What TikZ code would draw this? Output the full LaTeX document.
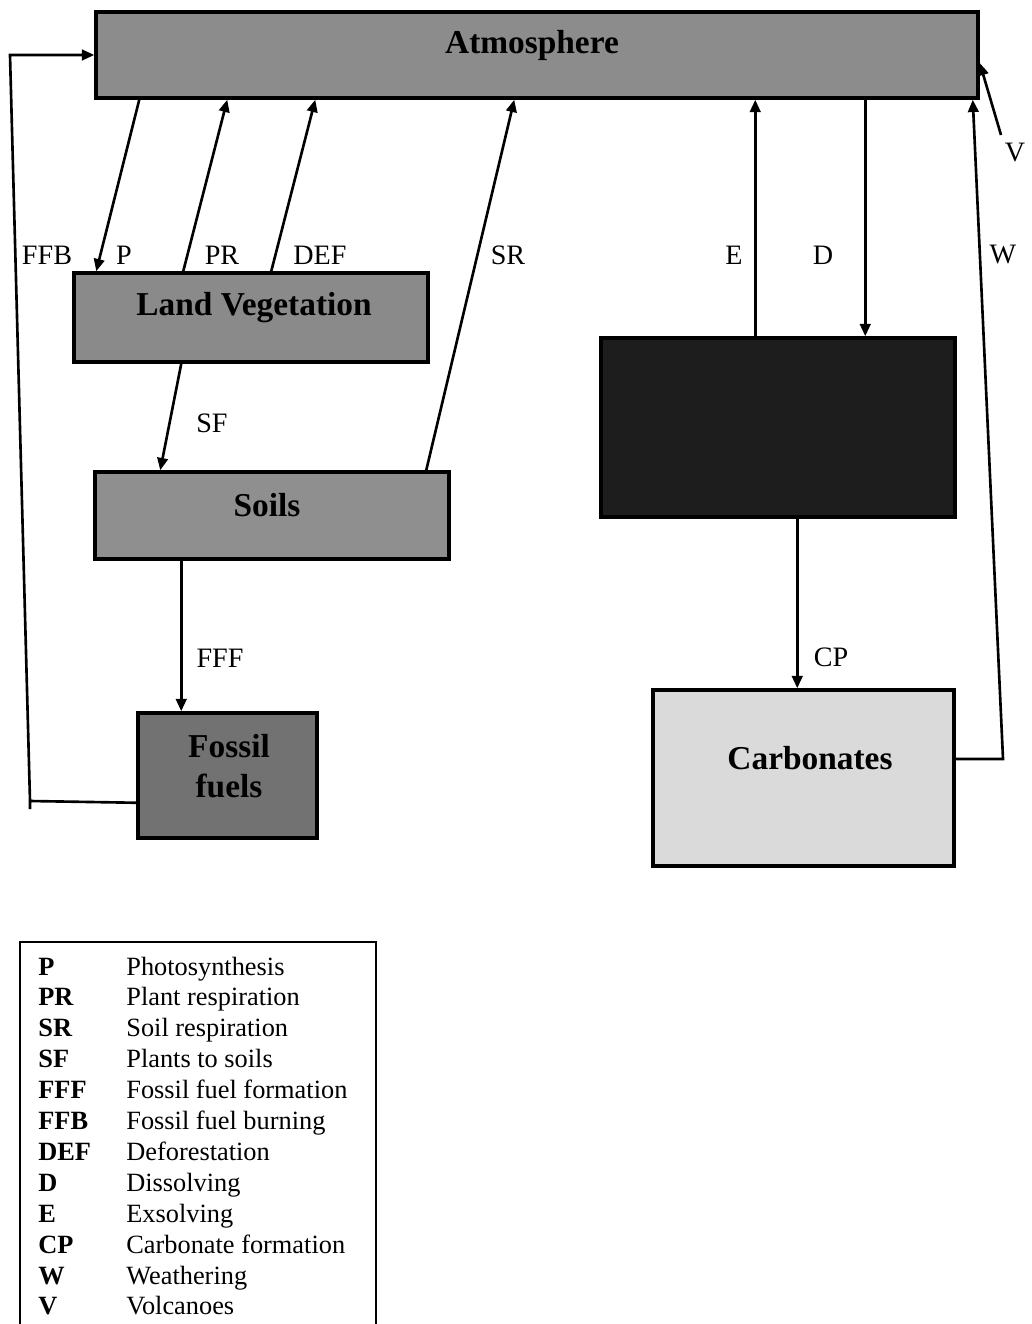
\documentclass[tikz,border=0pt]{standalone}
\usepackage{fontspec}
\setmainfont{Liberation Serif}
\usetikzlibrary{arrows.meta,calc,fit}
\definecolor{atmgray}{HTML}{8C8C8C}
\definecolor{veggray}{HTML}{8A8A8A}
\definecolor{soilgray}{HTML}{8F8F8F}
\definecolor{fossgray}{HTML}{727272}
\definecolor{oceanblk}{HTML}{1D1D1D}
\definecolor{carbgray}{HTML}{DADADA}
\begin{document}
\begin{tikzpicture}[x=0.02cm,y=-0.02cm,
  box/.style={draw=black,line width=2pt,inner sep=0pt,rectangle},
  title/.style={font=\fontsize{19}{23}\selectfont\bfseries,align=center,inner sep=0pt},
  lbl/.style={font=\fontsize{16}{18}\selectfont,inner sep=0pt},
  flow/.style={line width=1.5pt,-{Triangle[length=7pt,width=6pt]}},
  legab/.style={font=\fontsize{15}{17}\selectfont\bfseries,anchor=base west,inner sep=0pt},
  legtx/.style={font=\fontsize{15}{17}\selectfont,anchor=base west,inner sep=0pt}]
\useasboundingbox[fill=white] (0,0) rectangle (1031,1324);

% boxes
\node[box,fill=atmgray,fit={(96,12)(978,98)}] (atm) {};
\node[box,fill=veggray,fit={(74,273)(428,362)}] (veg) {};
\node[box,fill=soilgray,fit={(95,472)(449,559)}] (soil) {};
\node[box,fill=fossgray,fit={(138,713)(317,838)}] (foss) {};
\node[box,fill=oceanblk,fit={(601,338)(955,517)}] (ocean) {};
\node[box,fill=carbgray,fit={(653,690)(954,866)}] (carb) {};

% titles
\node[title] (atmT) at (532,45) {Atmosphere};
\node[title] (vegT) at (254,308) {Land Vegetation};
\node[title] (soilT) at (267,505) {Soils};
\node[title] (fossT) at (229,766) {Fossil\\fuels};
\node[title] (carbT) at (810,758) {Carbonates};

% connectors
\draw[flow] ($(atm.south west)+(45,0)$) -- ($(veg.north west)+(24,0)$);
\draw[flow] ($(veg.north west)+(111,0)$) -- ($(atm.south west)+(133,0)$);
\draw[flow] ($(veg.north west)+(199,0)$) -- ($(atm.south west)+(221,0)$);
\draw[flow] ($(soil.north west)+(333,0)$) -- ($(atm.south west)+(420,0)$);
\draw[flow] ($(veg.south west)+(109,0)$) -- ($(soil.north west)+(67,0)$);
\coordinate (fffs) at ($(soil.south west)+(88,0)$);
\draw[flow] (fffs) -- (fffs |- foss.north);

\coordinate (ffbA) at (30,801);
\coordinate (ffbB) at (10,55);
\draw[flow] ($(foss.south west)+(0,-37)$) -- (ffbA) -- ($(ffbA)+(0,8)$) (ffbA) -- (ffbB) -- (atm.west);

\coordinate (es) at ($(ocean.north west)+(156,0)$);
\draw[flow] (es) -- (es |- atm.south);
\coordinate (ds) at ($(atm.south west)+(771,0)$);
\draw[flow] (ds) -- (ds |- ocean.north);
\coordinate (cps) at ($(ocean.south west)+(198,0)$);
\draw[flow] (cps) -- (cps |- carb.north);

\coordinate (wA) at (1003,759);
\draw[flow] ($(carb.east)+(0,-19)$) -- (wA) -- ($(atm.south east)+(-7,0)$);
\coordinate (vS) at (1001,135);
\draw[flow] (vS) -- ($(atm.east)+(0,8)$);

% labels
\node[lbl] (lFFB) at (47,255) {FFB};
\node[lbl] (lP) at (124,255) {P};
\node[lbl] (lPR) at (222,255) {PR};
\node[lbl] (lDEF) at (320,255) {DEF};
\node[lbl] (lSR) at (508,255) {SR};
\node[lbl] (lE) at (734,255) {E};
\node[lbl] (lD) at (823,255) {D};
\node[lbl] (lW) at (1003,255) {W};
\node[lbl] (lV) at (1015,153) {V};
\node[lbl] (lSF) at (212,423) {SF};
\node[lbl] (lFFF) at (220,658) {FFF};
\node[lbl] (lCP) at (831,657) {CP};

% legend
\draw[line width=1.3pt] (20,1330) -- (20,942) -- (376,942) -- (376,1330);
\foreach \ab/\tx [count=\i from 0] in {P/Photosynthesis,PR/Plant respiration,SR/Soil respiration,SF/Plants to soils,FFF/Fossil fuel formation,FFB/Fossil fuel burning,DEF/Deforestation,D/Dissolving,E/Exsolving,CP/Carbonate formation,W/Weathering,V/Volcanoes}{
  \node[legab] (la\i) at (38,{975+30.9*\i}) {\ab};
  \node[legtx] (lt\i) at (126,{975+30.9*\i}) {\tx};
}
\end{tikzpicture}
\end{document}
